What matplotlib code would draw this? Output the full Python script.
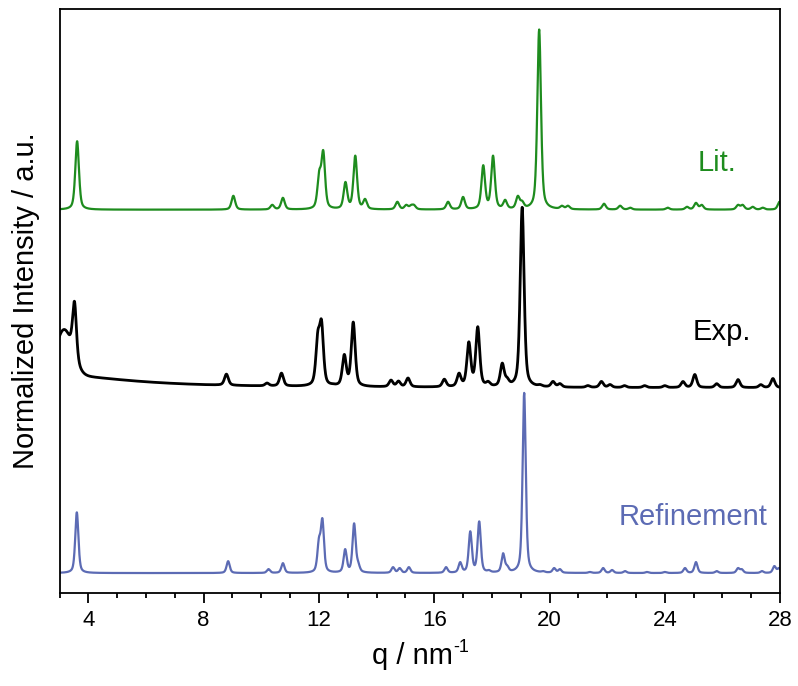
import numpy as np
import matplotlib
matplotlib.use("Agg")
import matplotlib.pyplot as plt
from matplotlib.ticker import MultipleLocator

plt.rcParams["font.family"] = ["Liberation Sans", "DejaVu Sans"]

# Peak positions (q / nm^-1) and apex heights (% of strongest reflection)
LIT_POS = [3.61, 9.03, 10.38, 10.75, 12.01, 12.15, 12.92, 13.26, 13.60, 14.72,
           15.03, 15.20, 15.30, 16.48, 17.00, 17.70, 18.04, 18.46, 18.90, 19.05,
           19.64, 20.43, 20.64, 21.89, 22.45, 22.80, 24.10, 24.77, 25.08, 25.28,
           26.54, 26.70, 27.05, 27.40, 27.98]
LIT_INT = [38.0, 7.7, 2.7, 6.6, 22.0, 33.0, 15.4, 30.0, 6.0, 4.4,
           2.7, 2.7, 2.7, 4.4, 7.1, 24.7, 30.0, 5.5, 7.7, 5.0,
           100.0, 2.2, 2.2, 3.3, 2.2, 1.1, 1.1, 1.6, 3.8, 2.7,
           2.7, 2.7, 1.6, 1.1, 4.4]

EXP_POS = [3.52, 8.79, 10.20, 10.70, 11.96, 12.09, 12.48, 12.88, 13.19, 14.50,
           14.76, 15.09, 16.35, 16.86, 17.20, 17.51, 17.87, 18.36, 18.53, 19.05,
           19.67, 20.12, 20.36, 21.33, 21.80, 22.10, 22.60, 23.30, 24.00, 24.63,
           25.04, 25.80, 26.54, 27.33, 27.75]
EXP_INT = [31.0, 6.2, 1.7, 7.3, 30.9, 37.1, 1.7, 18.0, 36.0, 3.9,
           3.4, 5.1, 4.5, 7.9, 25.3, 33.7, 3.4, 13.5, 5.6, 100.0,
           1.7, 3.4, 2.2, 1.1, 3.4, 1.7, 1.1, 1.1, 1.1, 3.4,
           7.3, 2.2, 4.5, 1.7, 5.1]
# measured pattern: low-q scattering hump and slowly decaying background
EXP_HUMP = (3.15, 25.0, 0.28)     # centre, height, sigma
EXP_SLOPE = (3.0, 6.7, 3.0)       # centre, height, half width

REF_POS = [3.60, 8.85, 10.25, 10.75, 12.00, 12.12, 12.91, 13.22, 13.36, 14.57,
           14.80, 15.12, 16.41, 16.90, 17.25, 17.56, 17.90, 18.39, 18.53, 19.12,
           19.78, 20.16, 20.36, 21.40, 21.86, 22.17, 22.62, 23.38, 24.00, 24.70,
           25.08, 25.80, 26.54, 26.67, 27.37, 27.80, 27.96]
REF_INT = [33.7, 6.6, 2.2, 5.5, 19.9, 30.4, 13.3, 27.6, 6.6, 3.3,
           2.8, 3.3, 3.3, 6.1, 23.2, 28.7, 1.7, 11.0, 4.4, 100.0,
           1.1, 2.8, 2.2, 0.6, 2.8, 1.7, 1.1, 0.6, 0.6, 2.8,
           6.1, 1.1, 2.8, 2.2, 1.1, 3.9, 2.8]

# vertical offsets of the stacked traces
OFFSETS = {"lit": 212.6, "exp": 113.7, "ref": 10.9}
FWHM = {"lit": 0.15, "exp": 0.16, "ref": 0.13}

GREEN = "#1e8c1e"
BLUE = "#5c6bb4"


def pvoigt(x, fwhm, eta=0.5):
    g = np.exp(-4 * np.log(2) * (x / fwhm) ** 2)
    l = 1.0 / (1.0 + (2 * x / fwhm) ** 2)
    return eta * l + (1 - eta) * g


def pattern(q, pos, apex, fwhm):
    pos = np.asarray(pos)
    # amplitudes so that the summed curve passes through the listed apex heights
    m = pvoigt(pos[:, None] - pos[None, :], fwhm)
    amp = np.clip(np.linalg.solve(m, np.asarray(apex)), 0, None)
    return (amp[None, :] * pvoigt(q[:, None] - pos[None, :], fwhm)).sum(axis=1)


q = np.linspace(3, 28, 5001)
lit = pattern(q, LIT_POS, LIT_INT, FWHM["lit"])
ref = pattern(q, REF_POS, REF_INT, FWHM["ref"])
c, h, s = EXP_HUMP
c2, h2, w2 = EXP_SLOPE
exp_bg = h * np.exp(-0.5 * ((q - c) / s) ** 2) + h2 / (1 + ((q - c2) / w2) ** 2)
exp = pattern(q, EXP_POS, EXP_INT, FWHM["exp"]) + exp_bg

fig = plt.figure(figsize=(7.98, 6.86), dpi=100)
ax = fig.add_axes([0.0746, 0.136, 0.9030, 0.8509])

ax.plot(q, lit + OFFSETS["lit"], color=GREEN, lw=1.6)
ax.plot(q, exp + OFFSETS["exp"], color="black", lw=2.0)
ax.plot(q, ref + OFFSETS["ref"], color=BLUE, lw=1.6)

ax.text(25.81, 238.5, "Lit.", color=GREEN, fontsize=21, ha="center", va="center")
ax.text(25.98, 144.5, "Exp.", color="black", fontsize=21, ha="center", va="center")
ax.text(24.98, 42.0, "Refinement", color=BLUE, fontsize=21, ha="center", va="center")

ax.set_xlim(3, 28)
ax.set_ylim(0, 324)
ax.xaxis.set_major_locator(MultipleLocator(4))
ax.xaxis.set_minor_locator(MultipleLocator(1))
ax.tick_params(axis="x", which="major", direction="out", length=7.5, width=1.3,
               labelsize=16, pad=5)
ax.tick_params(axis="x", which="minor", direction="out", length=3.5, width=1.3)
ax.set_yticks([])
for sp in ax.spines.values():
    sp.set_linewidth(1.3)

# x label with a plain-hyphen superscript placed after "nm"
xlab = ax.set_xlabel("q / nm", fontsize=21, labelpad=8)
xlab.set_x(0.49)
ax.annotate("-1", xy=(1.0, 0.52), xycoords=xlab, fontsize=13,
            ha="left", va="bottom")
ax.set_ylabel("Normalized Intensity / a.u.", fontsize=21, labelpad=14)

fig.savefig("out.png", dpi=100)
